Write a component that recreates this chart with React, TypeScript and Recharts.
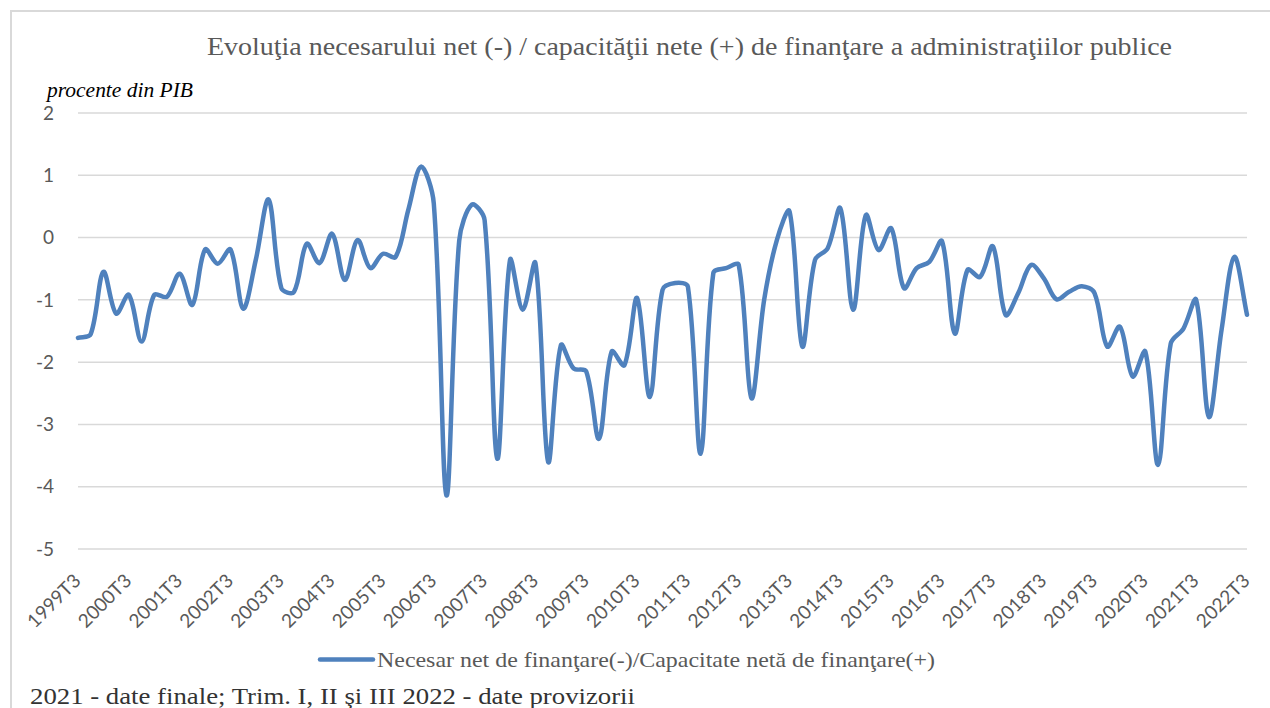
import React from "react";
import { LineChart, Line, XAxis, YAxis, CartesianGrid } from "recharts";

// quarterly labels 1999T3 .. 2022T3
const firstYear = 1999;
const firstQuarter = 3;
const quarterLabels: string[] = [];
for (let k = 0; k < 93; k++) {
  const q = firstQuarter - 1 + k;
  quarterLabels.push(`${firstYear + Math.floor(q / 4)}T${(q % 4) + 1}`);
}

// procente din PIB
const balanceValues = [
  -1.61, -1.55, -0.55, -1.22, -0.92, -1.67, -0.92, -0.95, -0.58, -1.08,
  -0.19, -0.42, -0.19, -1.14, -0.35, 0.61, -0.81, -0.87, -0.1, -0.41,
  0.06, -0.68, -0.04, -0.49, -0.26, -0.31, 0.45, 1.14, 0.55, -4.14,
  -0.05, 0.53, 0.28, -3.55, -0.36, -1.16, -0.41, -3.6, -1.73, -2.1,
  -2.15, -3.23, -1.83, -2.05, -0.97, -2.56, -0.84, -0.73, -0.79, -3.47,
  -0.57, -0.49, -0.44, -2.58, -1.0, -0.04, 0.42, -1.75, -0.36, -0.17,
  0.47, -1.16, 0.36, -0.2, 0.15, -0.81, -0.49, -0.39, -0.06, -1.54,
  -0.52, -0.63, -0.14, -1.24, -0.89, -0.44, -0.65, -0.99, -0.87, -0.78,
  -0.89, -1.75, -1.43, -2.23, -1.83, -3.65, -1.7, -1.46, -1.0, -2.88,
  -1.48, -0.31, -1.24,
];

const yTicks = [-5, -4, -3, -2, -1, 0, 1, 2];

const chartData = quarterLabels.map((label, i) => ({
  label,
  value: balanceValues[i],
}));

const BLUE = "#4F81BD";
const GREY_TEXT = "#595959";
const SERIF = "'Liberation Serif', 'Times New Roman', serif";
const SANS = "Lato, 'Open Sans', sans-serif";

// smoothed line like excel: tangents weighted by chord length so tall spikes don't overshoot
const excelSmooth = (context: any) => {
  let pts: number[][] = [];
  const dist = (a: number[], b: number[]) => Math.hypot(b[0] - a[0], b[1] - a[1]);
  return {
    areaStart() {},
    areaEnd() {},
    lineStart() {
      pts = [];
    },
    point(x: number, y: number) {
      pts.push([+x, +y]);
    },
    lineEnd() {
      const n = pts.length;
      if (!n) return;
      context.moveTo(pts[0][0], pts[0][1]);
      for (let i = 0; i < n - 1; i++) {
        const p0 = pts[Math.max(i - 1, 0)];
        const p1 = pts[i];
        const p2 = pts[i + 1];
        const p3 = pts[Math.min(i + 2, n - 1)];
        const d01 = dist(p0, p1);
        const d12 = dist(p1, p2);
        const d23 = dist(p2, p3);
        const f1 = d01 + d12 > 0 ? d12 / (d01 + d12) / 3 : 0;
        const f2 = d12 + d23 > 0 ? d12 / (d12 + d23) / 3 : 0;
        context.bezierCurveTo(
          p1[0] + (p2[0] - p0[0]) * f1,
          p1[1] + (p2[1] - p0[1]) * f1,
          p2[0] - (p3[0] - p1[0]) * f2,
          p2[1] - (p3[1] - p1[1]) * f2,
          p2[0],
          p2[1]
        );
      }
    },
  };
};

const XTick = (props: any) => {
  const { x, y, payload } = props;
  const ax = x + 4;
  const ay = y + 25;
  return (
    <text
      x={ax}
      y={ay}
      textAnchor="end"
      transform={`rotate(-45, ${ax}, ${ay})`}
      fill={GREY_TEXT}
      fontSize={19}
      fontFamily={SANS}
    >
      {payload.value}
    </text>
  );
};

const YTick = (props: any) => {
  const { y, payload } = props;
  return (
    <text
      x={54}
      y={y}
      dy="0.35em"
      textAnchor="end"
      fill={GREY_TEXT}
      fontSize={19}
      fontFamily={SANS}
    >
      {payload.value}
    </text>
  );
};

export default function App() {
  return (
    <div
      style={{
        position: "fixed",
        left: 0,
        top: 0,
        width: 1270,
        height: 708,
        overflow: "hidden",
        background: "#fff",
      }}
    >
      <div
        style={{
          position: "absolute",
          left: 10,
          top: 10,
          width: 1400,
          height: 800,
          border: "2px solid #d9d9d9",
        }}
      />
      <div style={{ position: "absolute", left: 0, top: 0 }}>
        <LineChart
          width={1270}
          height={708}
          data={chartData}
          margin={{ top: 113, right: 23, left: 18, bottom: 99 }}
        >
          <CartesianGrid
            vertical={false}
            stroke="#d9d9d9"
            strokeWidth={1.5}
          />
          <XAxis
            dataKey="label"
            interval={3}
            axisLine={false}
            tickLine={false}
            height={60}
            tick={<XTick />}
          />
          <YAxis
            domain={[-5, 2]}
            ticks={yTicks}
            axisLine={false}
            tickLine={false}
            width={60}
            tick={<YTick />}
          />
          <Line
            dataKey="value"
            type={excelSmooth as any}
            stroke={BLUE}
            strokeWidth={4.5}
            strokeLinecap="round"
            strokeLinejoin="round"
            dot={false}
            isAnimationActive={false}
          />
        </LineChart>
      </div>
      <svg
        width={1270}
        height={708}
        style={{ position: "absolute", left: 0, top: 0, pointerEvents: "none" }}
      >
        <text
          x={207}
          y={55}
          fill={GREY_TEXT}
          fontSize={26}
          fontFamily={SERIF}
          textLength={965}
          lengthAdjust="spacingAndGlyphs"
        >
          Evoluţia necesarului net (-) / capacităţii nete (+) de finanţare a administraţiilor publice
        </text>
        <text
          x={47}
          y={97}
          fill="#000"
          fontSize={20}
          fontStyle="italic"
          fontFamily={SERIF}
          textLength={146}
          lengthAdjust="spacingAndGlyphs"
        >
          procente din PIB
        </text>
        <line
          x1={320}
          y1={659.5}
          x2={373}
          y2={659.5}
          stroke={BLUE}
          strokeWidth={4.5}
          strokeLinecap="round"
        />
        <text
          x={377}
          y={667}
          fill={GREY_TEXT}
          fontSize={22}
          fontFamily={SERIF}
          textLength={558}
          lengthAdjust="spacingAndGlyphs"
        >
          Necesar net de finanţare(-)/Capacitate netă de finanţare(+)
        </text>
        <text
          x={30}
          y={704}
          fill="#333"
          fontSize={24}
          fontFamily={SERIF}
          textLength={605}
          lengthAdjust="spacingAndGlyphs"
        >
          2021 - date finale; Trim. I, II şi III 2022 - date provizorii
        </text>
      </svg>
    </div>
  );
}
